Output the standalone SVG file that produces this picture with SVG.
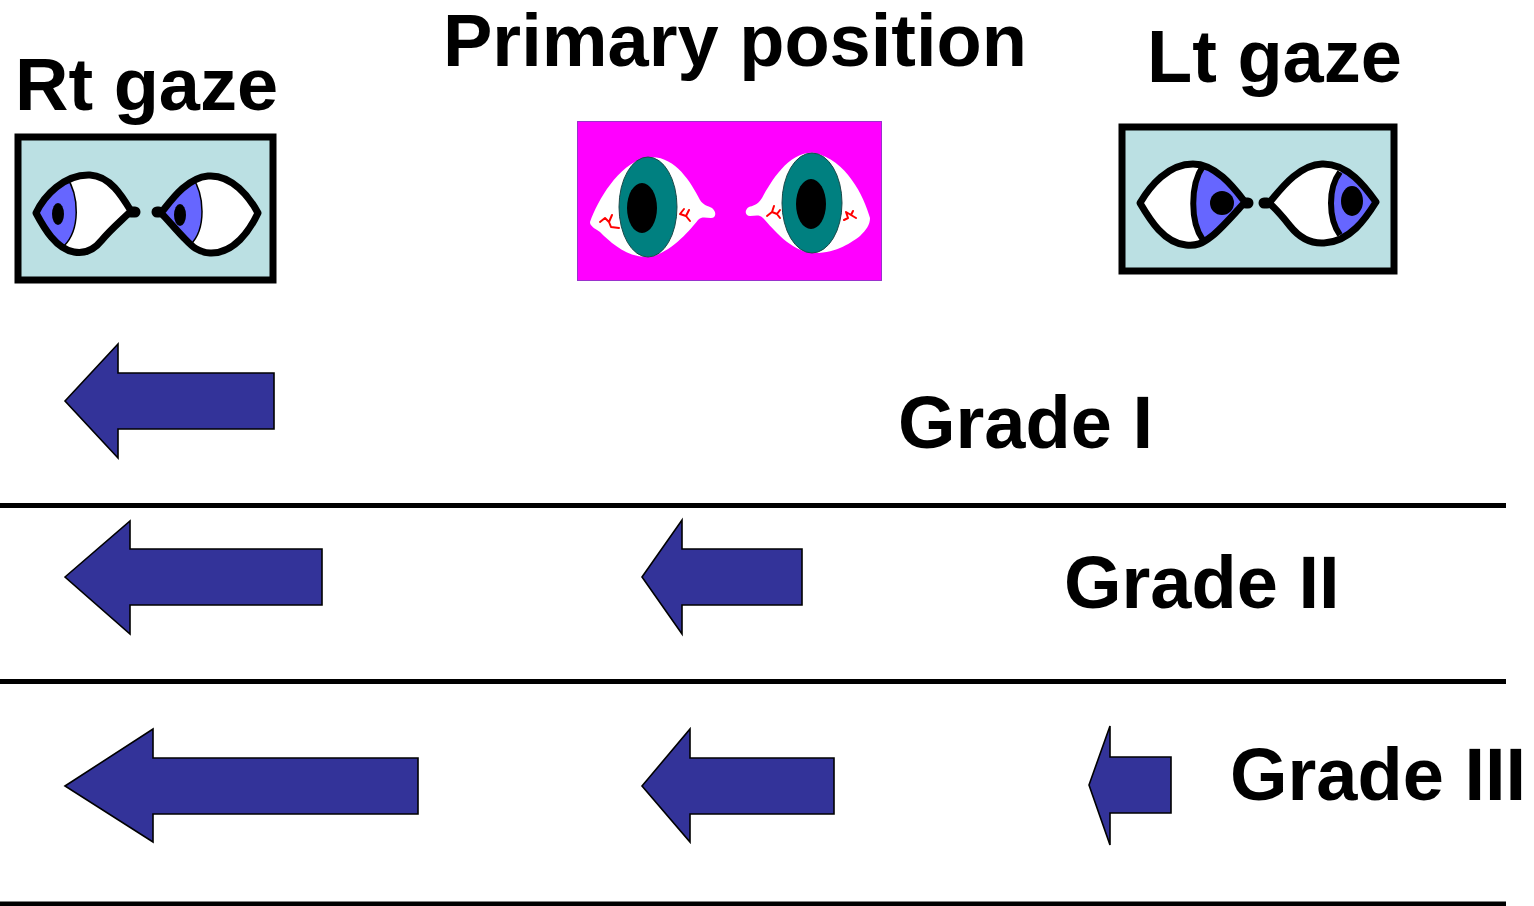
<svg xmlns="http://www.w3.org/2000/svg" xmlns:xlink="http://www.w3.org/1999/xlink" width="1534" height="906" viewBox="0 0 1534 906">
  <style>
    .title { font-family: "Liberation Sans", Arial, sans-serif; font-weight: bold; font-size: 74px; fill: #000; }
    .arrow { fill: #333399; stroke: #000; stroke-width: 1.6; stroke-linejoin: miter; }
    .rule { stroke: #000; stroke-width: 5; }
    .box { fill: #BBE0E3; stroke: #000; stroke-width: 7; }
    .white { fill: #fff; }
    .lid { fill: none; stroke: #000; stroke-width: 7; stroke-linejoin: round; }
    .iris { fill: #6666FF; }
    .limbus { fill: none; stroke: #000; stroke-width: 1.5; }
    .limbus-thick { fill: none; stroke: #000; stroke-width: 6; }
    .pupil { fill: #000; }
    .tab { stroke: #000; stroke-width: 11; stroke-linecap: round; }
    .vein { fill: none; stroke: #FF0000; stroke-width: 2; stroke-linecap: round; stroke-linejoin: round; }
    .teal { fill: #008080; stroke: #1a4a4a; stroke-width: 1; }
  </style>
  <defs>
    <path id="eyeRL" d="M36,213 C44,196 64,174 90,175 C110,176 122,196 131,211 C122,220 110,230 102,240 C94,250 84,254 74,252 C56,249 44,228 36,213 Z"/>
    <path id="eyeRR" d="M161,213 C170,202 186,178 208,176 C232,174 250,198 258,213 C250,230 234,254 210,253 C196,252 190,244 184,238 C176,230 168,220 161,213 Z"/>
    <path id="eyeLL" d="M1140,203 C1150,186 1168,164 1193,164 C1216,164 1234,188 1245,202 C1234,214 1222,228 1212,236 C1202,244 1196,246 1186,245 C1164,243 1150,220 1140,203 Z"/>
    <path id="eyeLR" d="M1269,203 C1280,190 1298,165 1322,164 C1348,163 1366,188 1376,202 C1366,218 1350,242 1324,243 C1308,244 1298,236 1290,226 C1282,216 1275,208 1269,203 Z"/>
    <clipPath id="clipRL"><use xlink:href="#eyeRL"/></clipPath>
    <clipPath id="clipRR"><use xlink:href="#eyeRR"/></clipPath>
    <clipPath id="clipLL"><use xlink:href="#eyeLL"/></clipPath>
    <clipPath id="clipLR"><use xlink:href="#eyeLR"/></clipPath>
  </defs>

  <rect width="1534" height="906" fill="#fff"/>

  <!-- headings -->
  <g id="label-rt-gaze"><text class="title" x="15" y="110">Rt gaze</text></g>
  <g id="label-primary"><text class="title" x="443" y="66">Primary position</text></g>
  <g id="label-lt-gaze"><text class="title" x="1147" y="82">Lt gaze</text></g>

  <!-- right gaze panel -->
  <g id="panel-rt-gaze">
    <rect class="box" x="18" y="137" width="255" height="143"/>
    <line class="tab" x1="131" y1="212" x2="135" y2="212"/>
    <use xlink:href="#eyeRL" class="white"/>
    <g clip-path="url(#clipRL)">
      <path class="iris" d="M28,168 L66,176 C80,196 80,230 64,246 L28,262 Z"/>
      <path class="limbus" d="M66,176 C80,196 80,230 64,246"/>
    </g>
    <ellipse class="pupil" cx="58" cy="214" rx="6" ry="11"/>
    <use xlink:href="#eyeRL" class="lid"/>

    <line class="tab" x1="157" y1="212" x2="159" y2="212"/>
    <use xlink:href="#eyeRR" class="white"/>
    <g clip-path="url(#clipRR)">
      <path class="iris" d="M150,170 L190,174 C206,194 206,230 190,245 L150,260 Z"/>
      <path class="limbus" d="M190,174 C206,194 206,230 190,245"/>
    </g>
    <ellipse class="pupil" cx="180" cy="215" rx="6" ry="11"/>
    <use xlink:href="#eyeRR" class="lid"/>
  </g>

  <!-- primary position panel -->
  <g id="panel-primary">
    <rect x="577.5" y="121.5" width="304" height="159" fill="#FF00FF" stroke="#9933CC" stroke-width="1"/>
    <path class="white" d="M590,222 C598,200 618,165 645,158 C672,152 690,180 700,200 C703,205 708,206 712,208 C717,212 716,218 711,218 C706,218 702,216 698,220 C690,230 672,252 650,257 C628,258 612,244 600,232 C594,228 590,226 590,222 Z"/>
    <ellipse class="teal" cx="648" cy="207" rx="29" ry="50"/>
    <ellipse class="pupil" cx="642" cy="208" rx="15" ry="25"/>
    <path class="vein" d="M600,222 l5,-4 l4,4 l3,-7 m-3,7 l2,5 l8,1"/>
    <path class="vein" d="M680,214 l4,-5 m-4,5 l6,2 l3,-6 m-3,6 l4,5"/>

    <path class="white" d="M870,218 C864,196 846,160 815,153 C790,150 772,180 762,198 C758,205 752,206 749,207 C744,210 745,216 750,216 C755,216 759,214 763,218 C774,230 790,250 812,253 C836,254 852,242 860,236 C866,230 870,225 870,218 Z"/>
    <ellipse class="teal" cx="812" cy="203" rx="30" ry="50"/>
    <ellipse class="pupil" cx="811" cy="204" rx="15" ry="25"/>
    <path class="vein" d="M767,216 l5,-4 l2,-6 m-2,6 l5,2 l3,-4 m-3,4 l3,4"/>
    <path class="vein" d="M844,220 l4,-2 l-2,-6 l5,3 l2,-4 m-2,4 l5,3"/>
  </g>

  <!-- left gaze panel -->
  <g id="panel-lt-gaze">
    <rect class="box" x="1122" y="127" width="272" height="144"/>
    <line class="tab" x1="1246" y1="203" x2="1248" y2="203"/>
    <use xlink:href="#eyeLL" class="white"/>
    <g clip-path="url(#clipLL)">
      <path class="iris" d="M1260,160 L1203,166 C1190,185 1190,222 1203,240 L1260,250 Z"/>
      <path class="limbus-thick" d="M1203,166 C1190,185 1190,222 1203,240"/>
    </g>
    <circle class="pupil" cx="1222" cy="203" r="12"/>
    <use xlink:href="#eyeLL" class="lid"/>

    <line class="tab" x1="1264" y1="203" x2="1267" y2="203"/>
    <use xlink:href="#eyeLR" class="white"/>
    <g clip-path="url(#clipLR)">
      <path class="iris" d="M1390,160 L1340,172 C1328,188 1328,218 1340,235 L1390,250 Z"/>
      <path class="limbus-thick" d="M1340,172 C1328,188 1328,218 1340,235"/>
    </g>
    <ellipse class="pupil" cx="1352" cy="201" rx="11" ry="15"/>
    <use xlink:href="#eyeLR" class="lid"/>
  </g>

  <!-- grade labels -->
  <g id="label-grade-1"><text class="title" x="898" y="448">Grade I</text></g>
  <g id="label-grade-2"><text class="title" x="1064" y="608">Grade II</text></g>
  <g id="label-grade-3"><text class="title" x="1230" y="800">Grade III</text></g>

  <!-- movement arrows -->
  <g id="connectors">
    <polygon class="arrow" points="65,401 118,344 118,373 274,373 274,429 118,429 118,458"/>
    <polygon class="arrow" points="65,577 130,521 130,549 322,549 322,605 130,605 130,634"/>
    <polygon class="arrow" points="642,577 682,520 682,549 802,549 802,605 682,605 682,634"/>
    <polygon class="arrow" points="65,786 153,729 153,758 418,758 418,814 153,814 153,842"/>
    <polygon class="arrow" points="642,786 690,729 690,758 834,758 834,814 690,814 690,842"/>
    <polygon class="arrow" points="1089,785 1110,726 1110,757 1171,757 1171,813 1110,813 1110,845"/>
  </g>

  <!-- grade separators -->
  <g id="separators">
    <line class="rule" x1="0" y1="505.5" x2="1506" y2="505.5"/>
    <line class="rule" x1="0" y1="681.5" x2="1506" y2="681.5"/>
    <line class="rule" x1="0" y1="904" x2="1506" y2="904"/>
  </g>
</svg>
